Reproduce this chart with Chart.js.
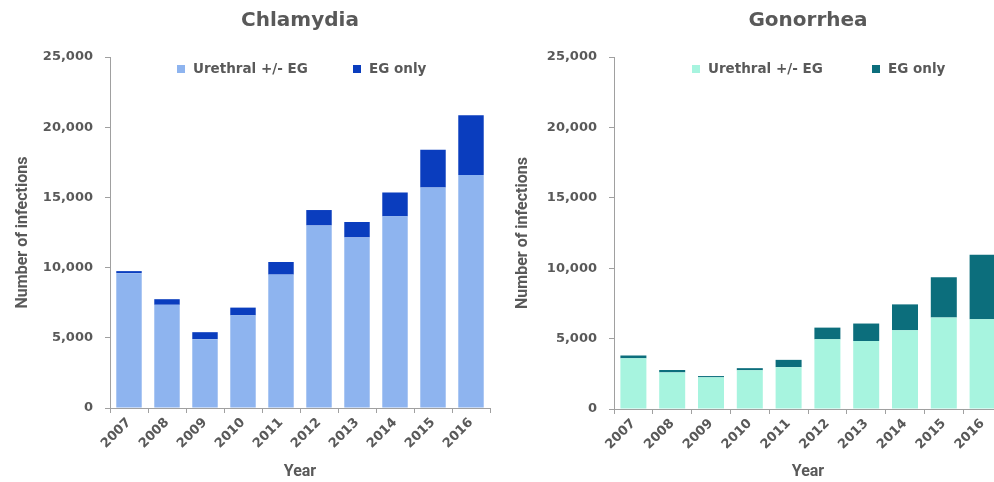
<!DOCTYPE html>
<html>
<head>
<meta charset="utf-8">
<title>Chlamydia and Gonorrhea infections by year</title>
<script src="https://cdn.jsdelivr.net/npm/chart.js@4.4.1/dist/chart.umd.min.js"></script>
<style>
  body {
    margin: 0;
    width: 994px;
    height: 482px;
    overflow: hidden;
    background: #fff;
    position: relative;
    font-family: "DejaVu Sans", sans-serif;
  }
  canvas {
    position: absolute;
    top: 0;
  }
  .legend-item {
    position: absolute;
    top: 60px;
    height: 16px;
    line-height: 16px;
    font-weight: bold;
    font-size: 13.5px;
    color: #595959;
    white-space: nowrap;
  }
  .legend-item span {
    display: inline-block;
    width: 8px;
    height: 8px;
    margin-right: 8px;
    vertical-align: 0px;
  }
</style>
</head>
<body>
<canvas id="chlamydia" width="596" height="482" style="left:0"></canvas>
<canvas id="gonorrhea" width="630" height="482" style="left:500px"></canvas>
<div id="legends"></div>
<script>
// years on the x axis
const years = ["2007", "2008", "2009", "2010", "2011", "2012", "2013", "2014", "2015", "2016"];

// chlamydia infections
const chlamydiaUrethral = [9600, 7350, 4900, 6600, 9500, 13000, 12150, 13650, 15700, 16600];
const chlamydiaEgOnly = [150, 400, 500, 550, 900, 1100, 1100, 1700, 2700, 4250];

// gonorrhea infections
const gonorrheaUrethral = [3600, 2600, 2250, 2750, 2970, 4950, 4830, 5590, 6490, 6370];
const gonorrheaEgOnly = [200, 170, 90, 150, 520, 830, 1240, 1840, 2870, 4580];

const seriesNames = ["Urethral +/- EG", "EG only"];
const yMax = 25000;
const yStep = 5000;

const textGray = "#595959";
const axisGray = "#a0a0a0";

// html legend, one item per series, placed above the bars
function addLegend(colors, lefts) {
  const holder = document.getElementById("legends");
  seriesNames.forEach((name, i) => {
    const item = document.createElement("div");
    item.className = "legend-item";
    item.style.left = lefts[i] + "px";
    const swatch = document.createElement("span");
    swatch.style.background = colors[i];
    item.appendChild(swatch);
    item.appendChild(document.createTextNode(name));
    holder.appendChild(item);
  });
}

function makeChart(canvasId, titleText, urethral, egOnly, colors, axisWidth, padRight, xHeight) {
  const ctx = document.getElementById(canvasId).getContext("2d");

  return new Chart(ctx, {
    type: "bar",
    data: {
      labels: years,
      datasets: [
        {
          label: seriesNames[0],
          data: urethral,
          backgroundColor: colors[0],
          borderWidth: 0,
        },
        {
          label: seriesNames[1],
          data: egOnly,
          backgroundColor: colors[1],
          borderWidth: 0,
        },
      ],
    },
    options: {
      responsive: false,
      animation: false,
      layout: {
        padding: { left: 0, right: padRight, top: 0, bottom: 0 },
      },
      datasets: {
        bar: {
          categoryPercentage: 1,
          barPercentage: 0.67,
        },
      },
      scales: {
        x: {
          stacked: true,
          afterFit: (scale) => {
            scale.height = xHeight;
          },
          border: { display: true, color: axisGray, width: 1 },
          grid: {
            display: true,
            offset: true,
            drawOnChartArea: false,
            drawTicks: true,
            tickLength: 5,
            color: axisGray,
          },
          ticks: {
            minRotation: 45,
            maxRotation: 45,
            padding: 2,
            color: textGray,
            font: { family: "DejaVu Sans", size: 13, weight: "bold" },
          },
          title: {
            display: true,
            text: "Year",
            color: textGray,
            padding: { top: 0, bottom: 0 },
            font: { family: "Roboto", size: 16, weight: "bold" },
          },
        },
        y: {
          stacked: true,
          min: 0,
          max: yMax,
          afterFit: (scale) => {
            scale.width = axisWidth;
          },
          border: { display: true, color: axisGray, width: 1 },
          grid: {
            display: true,
            drawOnChartArea: false,
            drawTicks: true,
            tickLength: 5,
            color: axisGray,
          },
          ticks: {
            stepSize: yStep,
            padding: 12,
            color: textGray,
            font: { family: "DejaVu Sans", size: 13, weight: "bold" },
          },
          title: {
            display: true,
            text: "Number of infections",
            color: textGray,
            padding: { top: 13, bottom: 0 },
            font: { family: "Roboto", size: 16, weight: "bold" },
          },
        },
      },
      plugins: {
        legend: { display: false },
        tooltip: { enabled: false },
        title: {
          display: true,
          fullSize: false,
          text: titleText,
          color: textGray,
          padding: { top: 9, bottom: 24 },
          font: { family: "DejaVu Sans", size: 20, weight: "bold" },
        },
      },
    },
  });
}

const chlamydiaColors = ["#8eb4ef", "#0a3dbe"];
const gonorrheaColors = ["#a7f4df", "#0c6e7c"];

makeChart("chlamydia", "Chlamydia", chlamydiaUrethral, chlamydiaEgOnly, chlamydiaColors, 110, 106, 74);
makeChart("gonorrhea", "Gonorrhea", gonorrheaUrethral, gonorrheaEgOnly, gonorrheaColors, 114, 128, 73);

addLegend(chlamydiaColors, [177, 353]);
addLegend(gonorrheaColors, [692, 872]);
</script>
</body>
</html>
